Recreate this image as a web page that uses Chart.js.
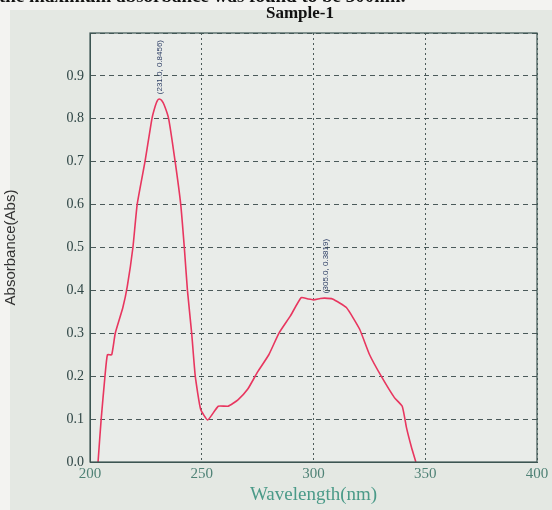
<!DOCTYPE html>
<html>
<head>
<meta charset="utf-8">
<script src="https://cdn.jsdelivr.net/npm/chart.js@4"></script>
<style>
  html, body { margin: 0; padding: 0; background: #f3f3f1; }
  #wrap { position: relative; width: 552px; height: 510px; overflow: hidden; }
  #caption { position: absolute; left: -1px; top: -15px; font: bold 19px "Liberation Serif", serif; color: #111; white-space: nowrap; }
  canvas { position: absolute; left: 0; top: 0; }
</style>
</head>
<body>
<div id="wrap">
  <canvas id="spectrum" width="552" height="510"></canvas>
  <div id="caption">the maximum absorbance was found to be 300nm.</div>
</div>
<script>
// UV-Vis scan, Sample-1
const wavelength = [203.6, 205.0, 206.7, 207.8, 209.7, 211.3, 214.7, 216.7, 219.2, 221.1, 224.6, 227.7,
  229.2, 230.2, 231.0, 232.0, 233.2, 235.2, 238.1, 240.6, 242.2, 243.6, 245.5, 247.1, 249.5, 252.7,
  257.4, 261.8, 266.2, 270.6, 275.0, 280.0, 284.5, 289.6, 294.5, 297.5, 300.0, 303.0, 305.0, 308.5,
  314.7, 320.6, 325.1, 330.3, 336.2, 339.7, 341.6, 343.8, 345.8]
const absorbance = [0.0, 0.10, 0.20, 0.25, 0.25, 0.30, 0.36, 0.41, 0.50, 0.60, 0.70, 0.80,
  0.83, 0.843, 0.846, 0.843, 0.832, 0.80, 0.70, 0.60, 0.50, 0.40, 0.30, 0.20, 0.123, 0.098,
  0.13, 0.13, 0.145, 0.17, 0.21, 0.25, 0.30, 0.34, 0.383, 0.380, 0.378, 0.381, 0.382, 0.380,
  0.36, 0.31, 0.25, 0.20, 0.15, 0.13, 0.08, 0.035, 0.0]
const xTicks = [200, 250, 300, 350, 400]
const yTicks = [0.0, 0.1, 0.2, 0.3, 0.4, 0.5, 0.6, 0.7, 0.8, 0.9]
const peaks = [{ x: 231.0, y: 0.8456, label: '(231.0, 0.8456)' }, { x: 305.0, y: 0.3819, label: '(305.0, 0.3819)' }]

const points = wavelength.map((w, i) => ({ x: w, y: absorbance[i] }))

const frame = {
  id: 'frame',
  beforeDraw(chart) {
    const { ctx, chartArea: a } = chart
    ctx.save()
    ctx.fillStyle = '#e4e8e3'
    ctx.fillRect(10, 10, 552, 510)
    ctx.fillStyle = '#e9ece9'
    ctx.fillRect(a.left, a.top, a.right - a.left, a.bottom - a.top)
    ctx.restore()
  },
  afterDraw(chart) {
    const { ctx, chartArea: a, scales } = chart
    ctx.save()
    ctx.strokeStyle = '#3d5553'
    ctx.lineWidth = 1.2
    ctx.strokeRect(a.left, a.top, a.right - a.left, a.bottom - a.top)
    // title
    ctx.fillStyle = '#111'
    ctx.font = 'bold 17px "Liberation Serif"'
    ctx.textAlign = 'center'
    ctx.textBaseline = 'middle'
    ctx.fillText('Sample-1', 300, 14)
    // peak labels
    ctx.fillStyle = '#2e3f66'
    ctx.font = '8px "Liberation Sans Narrow", "Liberation Sans"'
    ctx.textAlign = 'left'
    peaks.forEach(p => {
      const px = scales.x.getPixelForValue(p.x)
      const py = scales.y.getPixelForValue(p.y)
      ctx.save()
      ctx.translate(px + 1, py - 5)
      ctx.rotate(-Math.PI / 2)
      ctx.fillText(p.label, 0, 0)
      ctx.restore()
    })
    ctx.restore()
  }
}

new Chart(document.getElementById('spectrum').getContext('2d'), {
  type: 'line',
  data: {
    datasets: [{ data: points, borderColor: '#e8365f', borderWidth: 1.6, pointRadius: 0, tension: 0.15, fill: false }]
  },
  options: {
    responsive: false,
    animation: false,
    layout: { padding: { top: 33, right: 15, left: 0, bottom: 0 } },
    plugins: { legend: { display: false }, tooltip: { enabled: false } },
    scales: {
      x: {
        type: 'linear', min: 200, max: 400,
        afterBuildTicks: s => { s.ticks = xTicks.map(v => ({ value: v })) },
        afterFit: s => { s.height = 48 },
        ticks: { color: '#4f8276', font: { family: 'Liberation Serif', size: 15 }, padding: 3 },
        grid: { color: '#4b5a5a', lineWidth: 1, drawTicks: false },
        border: { display: true, color: '#3d5553', dash: [2, 3] },
        title: { display: true, text: 'Wavelength(nm)', color: '#4a9a88', font: { family: 'Liberation Serif', size: 19 }, padding: { top: 0, bottom: 4 } }
      },
      y: {
        min: 0, max: 1.0,
        afterBuildTicks: s => { s.ticks = yTicks.concat([1.0]).map(v => ({ value: v })) },
        afterFit: s => { s.width = 90 },
        ticks: {
          color: '#2f4646', font: { family: 'Liberation Serif', size: 14 }, padding: 6,
          callback: v => v >= 0.95 ? '' : v.toFixed(1)
        },
        grid: { color: '#4b5a5a', lineWidth: 1, drawTicks: false },
        border: { display: true, color: '#3d5553', dash: [5, 4] },
        title: { display: true, text: 'Absorbance(Abs)', color: '#333', font: { family: 'Liberation Sans', size: 15 }, padding: { top: 2, bottom: 0 } }
      }
    }
  },
  plugins: [frame]
})
</script>
</body>
</html>
